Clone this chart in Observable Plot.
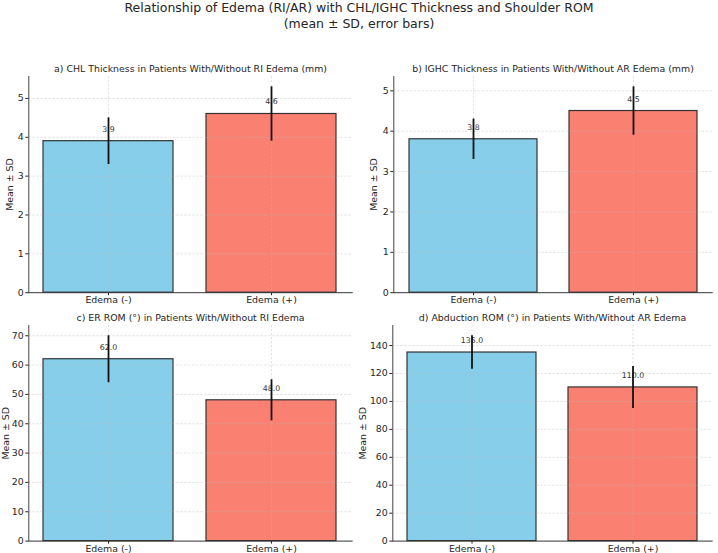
<!DOCTYPE html>
<html>
<head>
<meta charset="utf-8">
<script src="https://cdn.jsdelivr.net/npm/d3@7"></script>
<script src="https://cdn.jsdelivr.net/npm/@observablehq/plot@0.6"></script>
<style>
  body { margin: 0; background: #fff; }
  #fig { position: relative; width: 718px; height: 553px; background: #fff;
         font-family: "DejaVu Sans", sans-serif; color: #262626; overflow: hidden; }
  #suptitle { position: absolute; left: 0; top: 0; width: 718px; text-align: center;
              font-size: 12.5px; line-height: 16px; }
  .panel { position: absolute; }
</style>
</head>
<body>
<div id="fig">
  <div id="suptitle">Relationship of Edema (RI/AR) with CHL/IGHC Thickness and Shoulder ROM<br>(mean ± SD, error bars)</div>
</div>
<script>
// Groups compared in every panel
const groups = ["Edema (-)", "Edema (+)"];
const groupColors = ["#87CEEB", "#FA8072"];

const panelTitles = [
  "a) CHL Thickness in Patients With/Without RI Edema (mm)",
  "b) IGHC Thickness in Patients With/Without AR Edema (mm)",
  "c) ER ROM (°) in Patients With/Without RI Edema",
  "d) Abduction ROM (°) in Patients With/Without AR Edema"
];

// Mean and standard deviation per group
const chlMean = [3.9, 4.6];
const chlSD = [0.6, 0.7];
const ighcMean = [3.8, 4.5];
const ighcSD = [0.5, 0.6];
const erMean = [62.0, 48.0];
const erSD = [8, 7];
const abdMean = [135.0, 110.0];
const abdSD = [12, 15];

// Y tick values per panel
const ticksThickness = [0, 1, 2, 3, 4, 5];
const ticksER = [0, 10, 20, 30, 40, 50, 60, 70];
const ticksAbd = [0, 20, 40, 60, 80, 100, 120, 140];

const yLabel = "Mean ± SD";

const panels = [
  {title: panelTitles[0], mean: chlMean, sd: chlSD, ticks: ticksThickness},
  {title: panelTitles[1], mean: ighcMean, sd: ighcSD, ticks: ticksThickness},
  {title: panelTitles[2], mean: erMean, sd: erSD, ticks: ticksER},
  {title: panelTitles[3], mean: abdMean, sd: abdSD, ticks: ticksAbd}
];

// Page layout of each subplot: svg box and plotting frame edges
const layout = [
  {svgLeft: 0,   frameLeft: 28.3,  frameRight: 351.7, frameTop: 76.1,  frameBottom: 292.3, labelOffset: 22.3},
  {svgLeft: 355, frameLeft: 393.3, frameRight: 711.7, frameTop: 76.1,  frameBottom: 292.3, labelOffset: 23.3},
  {svgLeft: 0,   frameLeft: 28.3,  frameRight: 351.7, frameTop: 325.4, frameBottom: 541.0, labelOffset: 26.8},
  {svgLeft: 355, frameLeft: 392.3, frameRight: 711.7, frameTop: 325.4, frameBottom: 541.0, labelOffset: 33.3}
];

const fig = document.getElementById("fig");
const padTop = 26, padBottom = 22;

panels.forEach((p, i) => {
  const L = layout[i];
  const rows = groups.map((g, j) => ({group: g, mean: p.mean[j], sd: p.sd[j]}));
  const ymax = d3.max(rows, d => d.mean + d.sd) * 1.05;
  const svgWidth = (i % 2 === 0 ? 359 : 718) - L.svgLeft;

  const chart = Plot.plot({
    width: svgWidth,
    height: (L.frameBottom - L.frameTop) + padTop + padBottom,
    marginTop: padTop,
    marginBottom: padBottom,
    marginLeft: L.frameLeft - L.svgLeft,
    marginRight: L.svgLeft + svgWidth - L.frameRight,
    style: {fontFamily: "DejaVu Sans, sans-serif", fontSize: "9.4px", color: "#262626",
            background: "transparent", overflow: "visible"},
    x: {domain: groups, paddingInner: 0.2, paddingOuter: 0.09, label: null,
        tickSize: 3, tickPadding: 1},
    y: {domain: [0, ymax], ticks: p.ticks, tickFormat: d3.format("d"), tickSize: 3, tickPadding: 2,
        label: yLabel, labelAnchor: "center", labelArrow: "none", labelOffset: L.labelOffset},
    color: {domain: groups, range: groupColors},
    marks: [
      Plot.barY(rows, {x: "group", y: "mean", fill: "group", stroke: "#333", strokeWidth: 1.2}),
      Plot.gridY(p.ticks.filter(t => t > 0), {stroke: "#b8b8b8", strokeOpacity: 0.4, strokeDasharray: "2.5,1.5"}),
      Plot.gridX(groups, {stroke: "#b8b8b8", strokeOpacity: 0.4, strokeDasharray: "2.5,1.5"}),
      Plot.text(rows, {x: "group", y: "mean", text: d => d.mean.toFixed(1), dy: -12,
                       fontSize: 7.8, fill: "#333"}),
      Plot.ruleX(rows, {x: "group", y1: d => d.mean - d.sd, y2: d => d.mean + d.sd,
                        stroke: "#111", strokeWidth: 1.8}),
      Plot.frame({anchor: "left", stroke: "#444"}),
      Plot.frame({anchor: "bottom", stroke: "#333"}),
      Plot.text([p.title], {frameAnchor: "top", dy: -8, lineAnchor: "middle", fontSize: 9.4, fill: "#262626"})
    ]
  });

  const holder = document.createElement("div");
  holder.className = "panel";
  holder.style.left = L.svgLeft + "px";
  holder.style.top = (L.frameTop - padTop) + "px";
  holder.appendChild(chart);
  fig.appendChild(holder);
});
</script>
</body>
</html>
